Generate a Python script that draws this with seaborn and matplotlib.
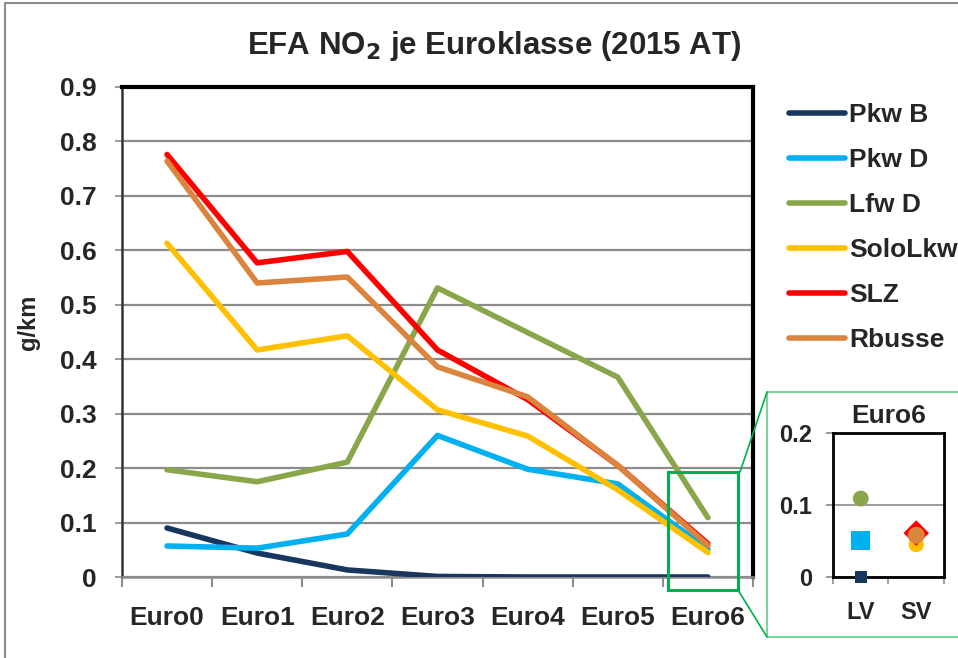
import numpy as np
import pandas as pd
import seaborn as sns
import matplotlib.pyplot as plt
from matplotlib.patches import Rectangle
from matplotlib.lines import Line2D

sns.set_style("white")
plt.rcParams['font.family'] = ['Liberation Sans', 'DejaVu Sans']
plt.rcParams['font.weight'] = 'bold'

classes = ['Euro0', 'Euro1', 'Euro2', 'Euro3', 'Euro4', 'Euro5', 'Euro6']
series = ['Pkw B', 'Pkw D', 'Lfw D', 'SoloLkw', 'SLZ', 'Rbusse']
pkw_b = [0.090, 0.044, 0.013, 0.001, 0.0, 0.0, 0.0]
pkw_d = [0.057, 0.053, 0.079, 0.260, 0.198, 0.171, 0.051]
lfw_d = [0.197, 0.175, 0.211, 0.531, 0.449, 0.367, 0.109]
solo_lkw = [0.613, 0.417, 0.443, 0.307, 0.259, 0.160, 0.045]
slz = [0.776, 0.577, 0.598, 0.417, 0.326, 0.205, 0.061]
rbusse = [0.764, 0.540, 0.551, 0.386, 0.331, 0.205, 0.058]
vehicle_group = ['LV', 'LV', 'LV', 'SV', 'SV', 'SV']
colors = ['#17375e', '#00b0f0', '#8aa64a', '#ffc000', '#ff0000', '#db843d']

values = [pkw_b, pkw_d, lfw_d, solo_lkw, slz, rbusse]
df = pd.DataFrame({
    'Euroklasse': classes * len(series),
    'Kategorie': np.repeat(series, len(classes)),
    'EF': np.concatenate(values),
})
# Euro6 points for the zoom inset
df6 = pd.DataFrame({'Gruppe': vehicle_group, 'Kategorie': series,
                    'EF': [v[-1] for v in values]})

fig = plt.figure(figsize=(9.58, 6.58), dpi=100)
ax = fig.add_axes([0.1273, 0.1231, 0.6587, 0.7447])

sns.lineplot(data=df, x='Euroklasse', y='EF', hue='Kategorie',
             palette=dict(zip(series, colors)), linewidth=4,
             sort=False, ax=ax, solid_capstyle='round', zorder=3)

ax.set_xlim(-0.5, 6.5)
ax.set_ylim(0, 0.9)
ax.set_yticks(np.arange(0, 0.91, 0.1))
ax.set_yticklabels(['0'] + ['%.1f' % v for v in np.arange(0.1, 0.91, 0.1)])
ax.yaxis.grid(True, color='#8c8c8c', linewidth=1.6)
ax.set_axisbelow(True)
ax.tick_params(axis='both', labelsize=19)
ax.tick_params(axis='x', length=0, pad=21)
ax.tick_params(axis='y', left=True, length=5, pad=13, color='#888888', width=1.2)
ax.set_xticks(np.arange(-0.5, 7, 1), minor=True)
ax.tick_params(axis='x', which='minor', bottom=True, length=7,
               color='#8c8c8c', width=1.5)
ax.set_xlabel('')
ax.set_ylabel('g/km', fontsize=17, fontweight='bold')
ax.yaxis.set_label_coords(-0.13, 0.52)
for s in ['top', 'right']:
    ax.spines[s].set_color('black')
    ax.spines[s].set_linewidth(3)
ax.spines['left'].set_color('#333333')
ax.spines['left'].set_linewidth(1.8)
ax.spines['bottom'].set_color('#8c8c8c')
ax.spines['bottom'].set_linewidth(1.8)

ax.legend(loc='upper left', bbox_to_anchor=(1.019, 1.016), frameon=False,
          fontsize=19, handlelength=2.15, labelspacing=0.8, handletextpad=0.15,
          borderpad=0.4, title=None)

fig.text(0.516, 0.93, 'EFA NO$_\\mathbf{2}$ je Euroklasse (2015 AT)',
         ha='center', va='center', fontsize=22.5, fontweight='bold')

# inset
ax2 = fig.add_axes([0.8695, 0.1231, 0.1159, 0.2188])
sns.scatterplot(data=df6, x='Gruppe', y='EF', hue='Kategorie', style='Kategorie',
                size='Kategorie', palette=dict(zip(series, colors)),
                markers=dict(zip(series, ['s', 's', 'o', 'o', 'D', 'o'])),
                sizes=dict(zip(series, [75, 190, 130, 120, 170, 150])),
                edgecolor='none', legend=False, ax=ax2, zorder=3, clip_on=False)
ax2.set_xlim(-0.5, 1.5)
ax2.set_ylim(0, 0.2)
ax2.set_yticks([0, 0.1, 0.2])
ax2.set_yticklabels(['0', '0.1', '0.2'])
ax2.yaxis.grid(True, color='#8c8c8c', linewidth=1.2)
ax2.set_axisbelow(True)
ax2.tick_params(axis='both', labelsize=17)
ax2.tick_params(axis='x', length=0, pad=17)
ax2.tick_params(axis='y', left=True, length=5, pad=10, color='#888888', width=1.2)
ax2.set_xticks([-0.5, 0.5, 1.5], minor=True)
ax2.tick_params(axis='x', which='minor', bottom=True, length=5,
                color='#8c8c8c', width=1.2)
ax2.set_xlabel('')
ax2.set_ylabel('')
for s in ax2.spines.values():
    s.set_color('black')
    s.set_linewidth(2)
ax2.set_title('Euro6', fontsize=19, fontweight='bold', pad=7)

# zoom frame and connectors
fig.add_artist(Rectangle((0.6973, 0.1033), 0.0731, 0.1793, transform=fig.transFigure,
                         fill=False, edgecolor='#00b050', linewidth=2.2))
fig.add_artist(Rectangle((0.8006, 0.0319), 0.21, 0.3723, transform=fig.transFigure,
                         fill=False, edgecolor='#66cc8a', linewidth=1.2))
fig.add_artist(Line2D([740 / 958, 767 / 958], [1 - 472 / 658, 1 - 392 / 658],
                      transform=fig.transFigure, color='#00b050', linewidth=1.2))
fig.add_artist(Line2D([738 / 958, 767 / 958], [1 - 590 / 658, 1 - 637 / 658],
                      transform=fig.transFigure, color='#00b050', linewidth=1.2))
# outer chart border
fig.add_artist(Line2D([0.005, 0.005, 1.0], [0.0, 0.995, 0.995],
                      transform=fig.transFigure, color='#8c8c8c', linewidth=1.5))

fig.savefig('out.png', dpi=100)
